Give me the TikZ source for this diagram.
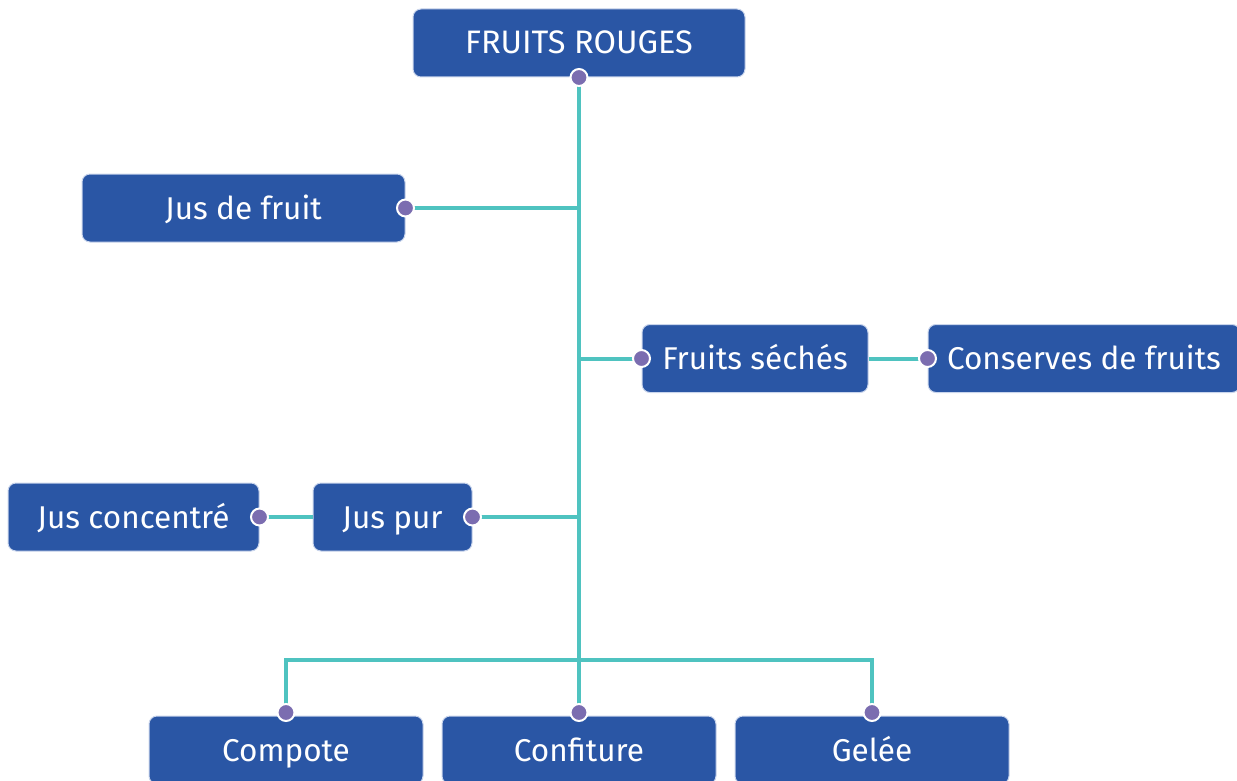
\documentclass[tikz,border=0pt]{standalone}
\usepackage{fontspec}
\setmainfont{Fira Sans}
\definecolor{boxblue}{HTML}{2A56A5}
\definecolor{boxedge}{HTML}{C9D5EC}
\definecolor{linkteal}{HTML}{4FC3C0}
\definecolor{dotpurple}{HTML}{7B6DB0}
\begin{document}
\begin{tikzpicture}[x=1pt,y=-1pt,
  box/.style={rectangle, rounded corners=8pt, fill=boxblue, draw=boxedge, line width=1pt,
    text=white, minimum height=68pt, inner sep=0pt, text height=22pt, text depth=0pt,
    font=\fontsize{31.5}{36}\selectfont},
  link/.style={draw=linkteal, line width=4pt},
  dot/.style={circle, fill=dotpurple, draw=white, line width=2pt, minimum size=17pt, inner sep=0pt}]
\useasboundingbox (0,0) rectangle (1237,781);
% boxes
\node[box, minimum width=332pt, font=\fontsize{32.5}{36}\selectfont] (root) at (579,43) {FRUITS ROUGES};
\node[box, minimum width=323pt] (jus) at (243.5,208) {Jus de fruit};
\node[box, minimum width=226pt] (seches) at (755,358.5) {Fruits séchés};
\node[box, minimum width=312pt] (conserves) at (1084,358.5) {Conserves de fruits};
\node[box, minimum width=159pt] (juspur) at (392.5,517) {Jus pur};
\node[box, minimum width=251pt] (concentre) at (133.5,517) {Jus concentré};
\node[box, minimum width=274pt] (compote) at (286,750) {Compote};
\node[box, minimum width=274pt] (confiture) at (579,750) {Confiture};
\node[box, minimum width=274pt] (gelee) at (872,750) {Gelée};
% junction of the lower branches
\coordinate (bar) at (root.south |- 0,660);
% connectors
\draw[link] (root.south) -- (bar);
\draw[link] (jus.east) -- (jus.east -| root.south);
\draw[link] (seches.west) -- (seches.west -| root.south);
\draw[link] (seches.east) -- (conserves.west);
\draw[link] (juspur.east) -- (juspur.east -| root.south);
\draw[link] (concentre.east) -- (juspur.west);
\draw[link] (compote.north) |- (bar) -| (gelee.north);
\draw[link] (bar) -- (confiture.north);
% connection dots
\foreach \p in {root.south, jus.east, seches.west, conserves.west, juspur.east,
  concentre.east}
  \node[dot] at (\p) {};
\foreach \p in {compote.north, confiture.north, gelee.north}
  \node[dot, yshift=3pt] at (\p) {};
\end{tikzpicture}
\end{document}
